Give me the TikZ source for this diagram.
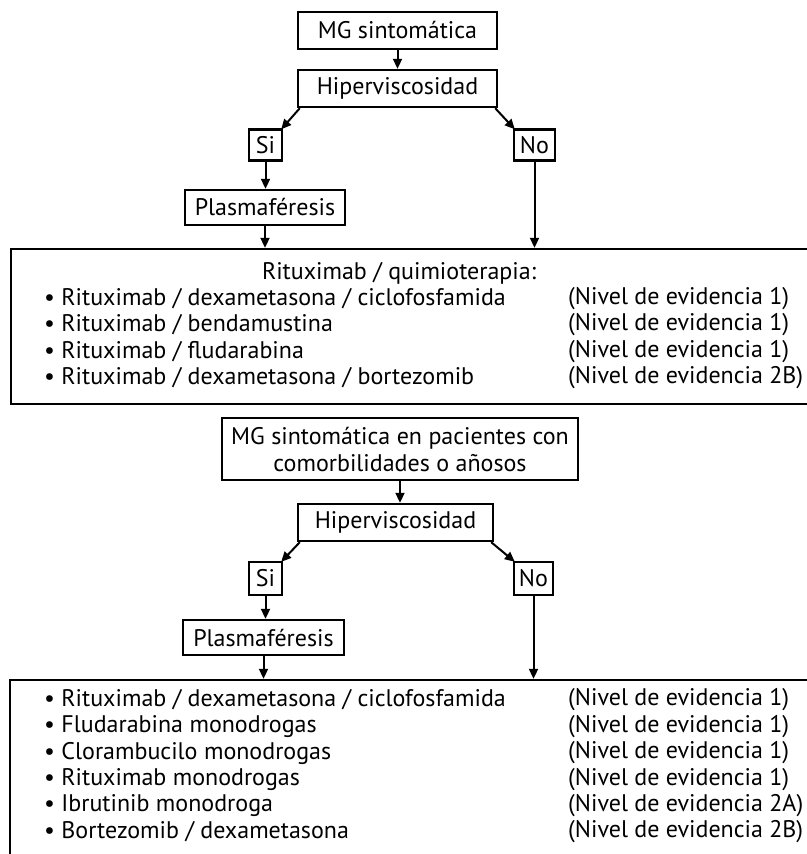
\documentclass[tikz,border=0pt]{standalone}
\usepackage{fontspec}
\setmainfont{PT Sans}
\usetikzlibrary{arrows.meta}
\begin{document}
\begin{tikzpicture}[x=1pt,y=-1pt,
  txt/.style={font=\fontsize{24}{27}\selectfont, inner sep=0pt},
  box/.style={txt, draw, line width=2.4pt, align=center},
  bigbox/.style={draw, line width=2.4pt, inner sep=0pt},
  item/.style={txt, anchor=west},
  arr/.style={line width=2pt, -{Triangle[length=10pt,width=9pt]}}]
\useasboundingbox (0,0) rectangle (806,854);
% ---------- first block ----------
\node[box, minimum width=199pt, minimum height=37pt] (mg1) at (397.5,30.5) {MG sintomática};
\node[box, minimum width=199pt, minimum height=37pt] (hv1) at (397.5,88.5) {Hiperviscosidad};
\node[box, minimum width=33pt, minimum height=31pt] (si1) at (265.5,145) {Si};
\node[box, minimum width=41pt, minimum height=31pt] (no1) at (534.5,145) {No};
\node[box, minimum width=160pt, minimum height=35pt] (pl1) at (265,207.5) {Plasmaféresis};
\node[bigbox, minimum width=809pt, minimum height=155pt] (big1) at (415.5,326.5) {};
\node[txt] (t1) at (399,273) {Rituximab / quimioterapia:};
\node[item] (a1) at (44,299) {• Rituximab / dexametasona / ciclofosfamida};
\node[item] (a2) at (44,325) {• Rituximab / bendamustina};
\node[item] (a3) at (44,352) {• Rituximab / fludarabina};
\node[item] (a4) at (44,378) {• Rituximab / dexametasona / bortezomib};
\node[item] (e1) at (568,299) {(Nivel de evidencia 1)};
\node[item] (e2) at (568,325) {(Nivel de evidencia 1)};
\node[item] (e3) at (568,352) {(Nivel de evidencia 1)};
\node[item] (e4) at (568,378) {(Nivel de evidencia 2B)};
\draw[arr] (mg1) -- (hv1);
\draw[arr] ([xshift=3pt]hv1.south west) -- ([xshift=-2pt,yshift=-1pt]si1.north east);
\draw[arr] ([xshift=-3pt]hv1.south east) -- ([xshift=2pt,yshift=-1pt]no1.north west);
\draw[arr] (si1) -- (pl1.north -| si1.south);
\draw[arr] (pl1) -- (pl1.south |- big1.north);
\draw[arr] (no1.south) -- (no1.south |- big1.north);
% ---------- second block ----------
\node[box, minimum width=356pt, minimum height=62pt] (mg2) at (400,449) {MG sintomática en pacientes con\\comorbilidades o añosos};
\node[box, minimum width=195pt, minimum height=37pt] (hv2) at (395.5,522.5) {Hiperviscosidad};
\node[box, minimum width=33pt, minimum height=33pt] (si2) at (265.5,578.5) {Si};
\node[box, minimum width=39pt, minimum height=33pt] (no2) at (533.5,578.5) {No};
\node[box, minimum width=161pt, minimum height=35pt] (pl2) at (263.5,637.5) {Plasmaféresis};
\node[bigbox, minimum width=810pt, minimum height=190pt] (big2) at (415,775) {};
\node[item] (b1) at (44,700) {• Rituximab / dexametasona / ciclofosfamida};
\node[item] (b2) at (44,727) {• Fludarabina monodrogas};
\node[item] (b3) at (44,753) {• Clorambucilo monodrogas};
\node[item] (b4) at (44,780) {• Rituximab monodrogas};
\node[item] (b5) at (44,806) {• Ibrutinib monodroga};
\node[item] (b6) at (44,832) {• Bortezomib / dexametasona};
\node[item] (f1) at (568,700) {(Nivel de evidencia 1)};
\node[item] (f2) at (568,727) {(Nivel de evidencia 1)};
\node[item] (f3) at (568,753) {(Nivel de evidencia 1)};
\node[item] (f4) at (568,780) {(Nivel de evidencia 1)};
\node[item] (f5) at (568,806) {(Nivel de evidencia 2A)};
\node[item] (f6) at (568,832) {(Nivel de evidencia 2B)};
\draw[arr] (mg2) -- (hv2.north -| mg2.south);
\draw[arr] ([xshift=3pt]hv2.south west) -- ([xshift=-2pt,yshift=-1pt]si2.north east);
\draw[arr] ([xshift=-3pt]hv2.south east) -- ([xshift=2pt,yshift=-1pt]no2.north west);
\draw[arr] (si2) -- (pl2.north -| si2.south);
\draw[arr] (pl2) -- (pl2.south |- big2.north);
\draw[arr] (no2.south) -- (no2.south |- big2.north);
\end{tikzpicture}
\end{document}
